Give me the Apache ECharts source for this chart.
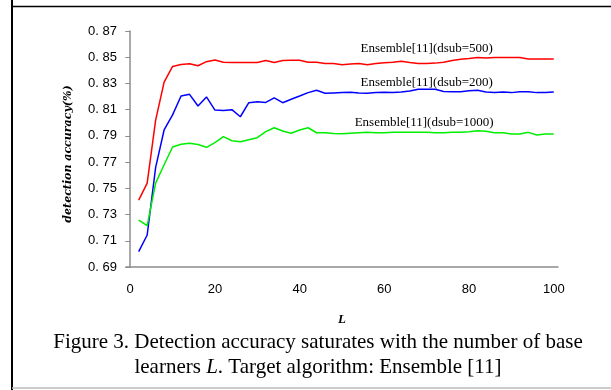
<!DOCTYPE html>
<html>
<head>
<meta charset="utf-8">
<style>
  html, body { margin: 0; padding: 0; background: #fff; }
  #chart { width: 611px; height: 390px; }
</style>
<script src="https://cdn.jsdelivr.net/npm/echarts@6/dist/echarts.min.js"></script>
</head>
<body>
<div id="chart"></div>
<script>
// number of base learners
var L = [2, 4, 6, 8, 10, 12, 14, 16, 18, 20, 22, 24, 26, 28, 30, 32, 34, 36, 38, 40,
    42, 44, 46, 48, 50, 52, 54, 56, 58, 60, 62, 64, 66, 68, 70, 72, 74, 76, 78, 80,
    82, 84, 86, 88, 90, 92, 94, 96, 98, 100];
// dsub=500
var acc500 = [0.741, 0.754, 0.802, 0.831, 0.843, 0.8445, 0.845, 0.8435, 0.8466, 0.8479,
    0.8461, 0.846, 0.846, 0.846, 0.846, 0.8475, 0.846, 0.8475, 0.8477, 0.8477,
    0.8462, 0.8461, 0.8452, 0.8452, 0.8443, 0.8448, 0.8453, 0.8443, 0.8453, 0.8458,
    0.8462, 0.847, 0.846, 0.8452, 0.8453, 0.8455, 0.8462, 0.8475, 0.8484, 0.849,
    0.8497, 0.8495, 0.8498, 0.8498, 0.8498, 0.8498, 0.8486, 0.8486, 0.8486, 0.8486];
// dsub=200
var acc200 = [0.7017, 0.7144, 0.766, 0.7945, 0.806, 0.8204, 0.8217, 0.8128, 0.8197, 0.8097,
    0.8094, 0.810, 0.8046, 0.8153, 0.816, 0.8155, 0.819, 0.8153, 0.8179, 0.8204,
    0.823, 0.8248, 0.8225, 0.8228, 0.823, 0.8232, 0.8228, 0.8225, 0.823, 0.8232,
    0.823, 0.8235, 0.8242, 0.8255, 0.8255, 0.8255, 0.8238, 0.8237, 0.8237, 0.8245,
    0.8248, 0.8235, 0.823, 0.8235, 0.823, 0.8237, 0.8237, 0.823, 0.823, 0.8235];
// dsub=1000
var acc1000 = [0.7258, 0.7215, 0.754, 0.768, 0.7815, 0.7836, 0.7843, 0.7834, 0.7813, 0.7848,
    0.7894, 0.7863, 0.7855, 0.787, 0.7886, 0.7932, 0.7962, 0.7937, 0.792, 0.7945,
    0.7962, 0.7924, 0.7924, 0.7918, 0.7916, 0.792, 0.7924, 0.7927, 0.7924, 0.7924,
    0.7927, 0.7927, 0.7927, 0.7927, 0.7927, 0.7924, 0.7924, 0.7927, 0.7927, 0.7932,
    0.794, 0.7935, 0.7924, 0.7924, 0.7914, 0.7914, 0.7927, 0.7907, 0.7914, 0.7914];
var xTicks = [0, 20, 40, 60, 80, 100];
var names = ['Ensemble[11](dsub=500)', 'Ensemble[11](dsub=200)', 'Ensemble[11](dsub=1000)'];
// where each curve's label sits, in data units
var labelPos = [[70, 0.8563], [70, 0.8304], [69.4, 0.7999]];

function pairs(ys) {
    return L.map(function(x, i) { return [x, ys[i]]; });
}

function line(name, ys, color, pos) {
    return {
        name: name,
        type: 'line',
        data: pairs(ys),
        showSymbol: false,
        symbol: 'none',
        silent: true,
        lineStyle: { color: color, width: 1.5 },
        markPoint: {
            symbol: 'circle',
            symbolSize: 0,
            data: [{ coord: pos, value: name }],
            label: {
                show: true,
                position: 'inside',
                formatter: name,
                color: '#000',
                fontFamily: 'Liberation Serif',
                fontSize: 13
            }
        }
    };
}

var myChart = echarts.init(document.getElementById('chart'));
var option = {
    backgroundColor: '#fff',
    animation: false,
    title: {
        text: 'Figure 3. Detection accuracy saturates with the number of base\nlearners {i|L}. Target algorithm: Ensemble [11]',
        left: 313,
        top: 325,
        textAlign: 'center',
        textStyle: {
            color: '#000',
            fontFamily: 'Liberation Serif',
            fontWeight: 'normal',
            fontSize: 21,
            lineHeight: 25,
            rich: {
                i: { fontFamily: 'Liberation Serif', fontStyle: 'italic', fontSize: 21, color: '#000' }
            }
        }
    },
    grid: { left: 126, right: 53, top: 31, bottom: 123 },
    xAxis: {
        type: 'value',
        min: -1,
        max: 101,
        name: 'L',
        nameLocation: 'middle',
        nameGap: 46,
        nameTextStyle: {
            color: '#000',
            fontFamily: 'Liberation Serif',
            fontStyle: 'italic',
            fontWeight: 'bold',
            fontSize: 13
        },
        axisLine: { lineStyle: { color: '#8c8c8c', width: 1.5 } },
        axisTick: { show: false },
        splitLine: { show: false },
        axisLabel: {
            customValues: xTicks,
            margin: 16,
            color: '#000',
            fontFamily: 'Liberation Sans',
            fontSize: 13
        }
    },
    yAxis: {
        type: 'value',
        min: 0.69,
        max: 0.87,
        interval: 0.02,
        name: 'detection accuracy(%)',
        nameLocation: 'middle',
        nameGap: 52,
        nameTextStyle: {
            color: '#000',
            fontFamily: 'DejaVu Serif',
            fontStyle: 'italic',
            fontWeight: 'bold',
            fontSize: 11,
            padding: [0, 10, 0, 0]
        },
        axisLine: { show: true, lineStyle: { color: '#8c8c8c', width: 1.5 } },
        axisTick: { show: true, length: 5, lineStyle: { color: '#8c8c8c' } },
        splitLine: { show: false },
        axisLabel: {
            margin: 9,
            color: '#000',
            fontFamily: 'Liberation Sans',
            fontSize: 13,
            formatter: function(v) { return v.toFixed(2).replace('.', '. '); }
        }
    },
    // frame round the figure
    graphic: [
        { type: 'line', shape: { x1: 12, y1: 0, x2: 12, y2: 390 }, style: { stroke: '#000', lineWidth: 2 } },
        { type: 'line', shape: { x1: 12, y1: 6.5, x2: 611, y2: 6.5 }, style: { stroke: '#000', lineWidth: 1.5 } },
        { type: 'line', shape: { x1: 12, y1: 388, x2: 611, y2: 388 }, style: { stroke: '#bbb', lineWidth: 1.5 } }
    ],
    series: [
        line(names[0], acc500, '#ff0000', labelPos[0]),
        line(names[1], acc200, '#0000ff', labelPos[1]),
        line(names[2], acc1000, '#00ee00', labelPos[2])
    ]
};
myChart.setOption(option);
</script>
</body>
</html>
